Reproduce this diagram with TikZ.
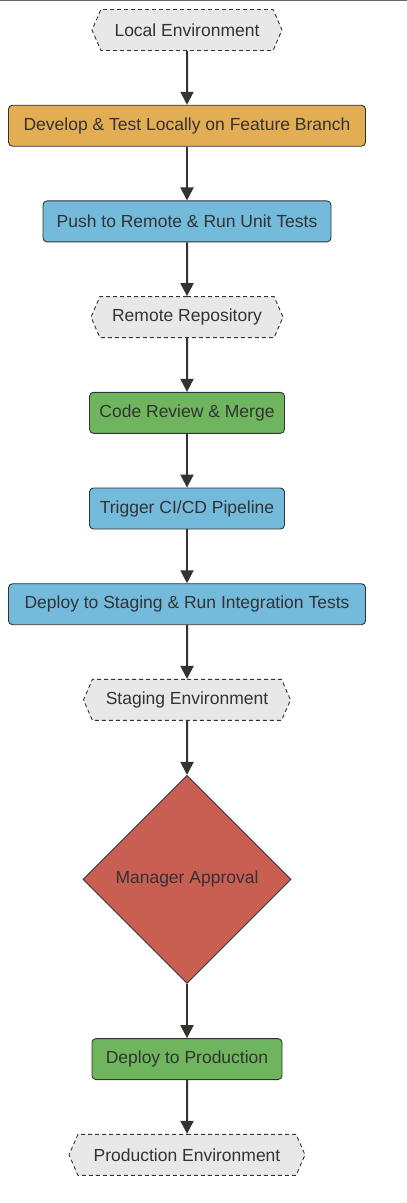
\documentclass[tikz,border=0pt]{standalone}
\usepackage{xcolor}
\usepackage{fontspec}
\setmainfont{Liberation Sans}
\usepackage{tikz}
\usetikzlibrary{positioning,shapes.geometric,shapes.symbols,arrows.meta}
\definecolor{c_env}{rgb}{0.91, 0.91, 0.91}
\definecolor{c_develop}{rgb}{0.89, 0.68, 0.33}
\definecolor{c_test}{rgb}{0.45, 0.73, 0.86}
\definecolor{c_merge}{rgb}{0.43, 0.71, 0.37}
\definecolor{c_approve}{rgb}{0.79, 0.37, 0.32}
\definecolor{c_line}{rgb}{0.2, 0.2, 0.2}
\tikzset{c-process/.style={rectangle, rounded corners=4pt, minimum height=41pt, inner xsep=0pt, text centered, draw=c_line, line width=0.9pt, text=c_line, font=\fontsize{17.5pt}{21pt}\selectfont},
c-hexagon/.style={signal, signal to=west and east, signal pointer angle=133, minimum height=41pt, inner xsep=0pt, draw=c_line, line width=0.9pt, dash pattern=on 4pt off 3pt, fill=c_env, text=c_line, font=\fontsize{17.5pt}{21pt}\selectfont},
c-decision/.style={diamond, aspect=1, minimum width=208pt, minimum height=208pt, inner sep=0pt, draw=c_line, line width=0.9pt, text=c_line, font=\fontsize{17.5pt}{21pt}\selectfont},
arrow/.style={line width=2pt, draw=c_line, -{Triangle[length=13pt,width=13pt]}}}

\begin{document}
\begin{tikzpicture}[node distance = 95.7pt]
\useasboundingbox (0pt,0pt) rectangle (407pt,-1203pt);
\draw [line width=1.2pt, draw=black!60] (0pt,-0.6pt) -- (407pt,-0.6pt);
\node (n0) [c-hexagon, minimum width=190pt] at (187pt,-30pt) {Local Environment};
\node (n1) [c-process, below of=n0, minimum width=357pt, fill=c_develop] {Develop \& Test Locally on Feature Branch};
\node (n2) [c-process, below of=n1, minimum width=288pt, fill=c_test] {Push to Remote \& Run Unit Tests};
\node (n3) [c-hexagon, below of=n2, minimum width=192pt] {Remote Repository};
\node (n4) [c-process, below of=n3, minimum width=195pt, fill=c_merge] {Code Review \& Merge};
\node (n5) [c-process, below of=n4, minimum width=195pt, fill=c_test] {Trigger CI/CD Pipeline};
\node (n6) [c-process, below of=n5, minimum width=357pt, fill=c_test] {Deploy to Staging \& Run Integration Tests};
\node (n7) [c-hexagon, below of=n6, minimum width=207pt] {Staging Environment};
\node (n8) [c-decision, below of=n7, node distance=179.5pt, fill=c_approve] {Manager Approval};
\node (n9) [c-process, below of=n8, node distance=179.7pt, minimum width=190pt, fill=c_merge] {Deploy to Production};
\node (n10) [c-hexagon, below of=n9, minimum width=236pt] {Production Environment};
\draw [arrow] (n0) -- (n1);
\draw [arrow] (n1) -- (n2);
\draw [arrow] (n2) -- (n3);
\draw [arrow] (n3) -- (n4);
\draw [arrow] (n4) -- (n5);
\draw [arrow] (n5) -- (n6);
\draw [arrow] (n6) -- (n7);
\draw [arrow] (n7) -- (n8);
\draw [arrow] (n8) -- (n9);
\draw [arrow] (n9) -- (n10);
\end{tikzpicture}
\end{document}
